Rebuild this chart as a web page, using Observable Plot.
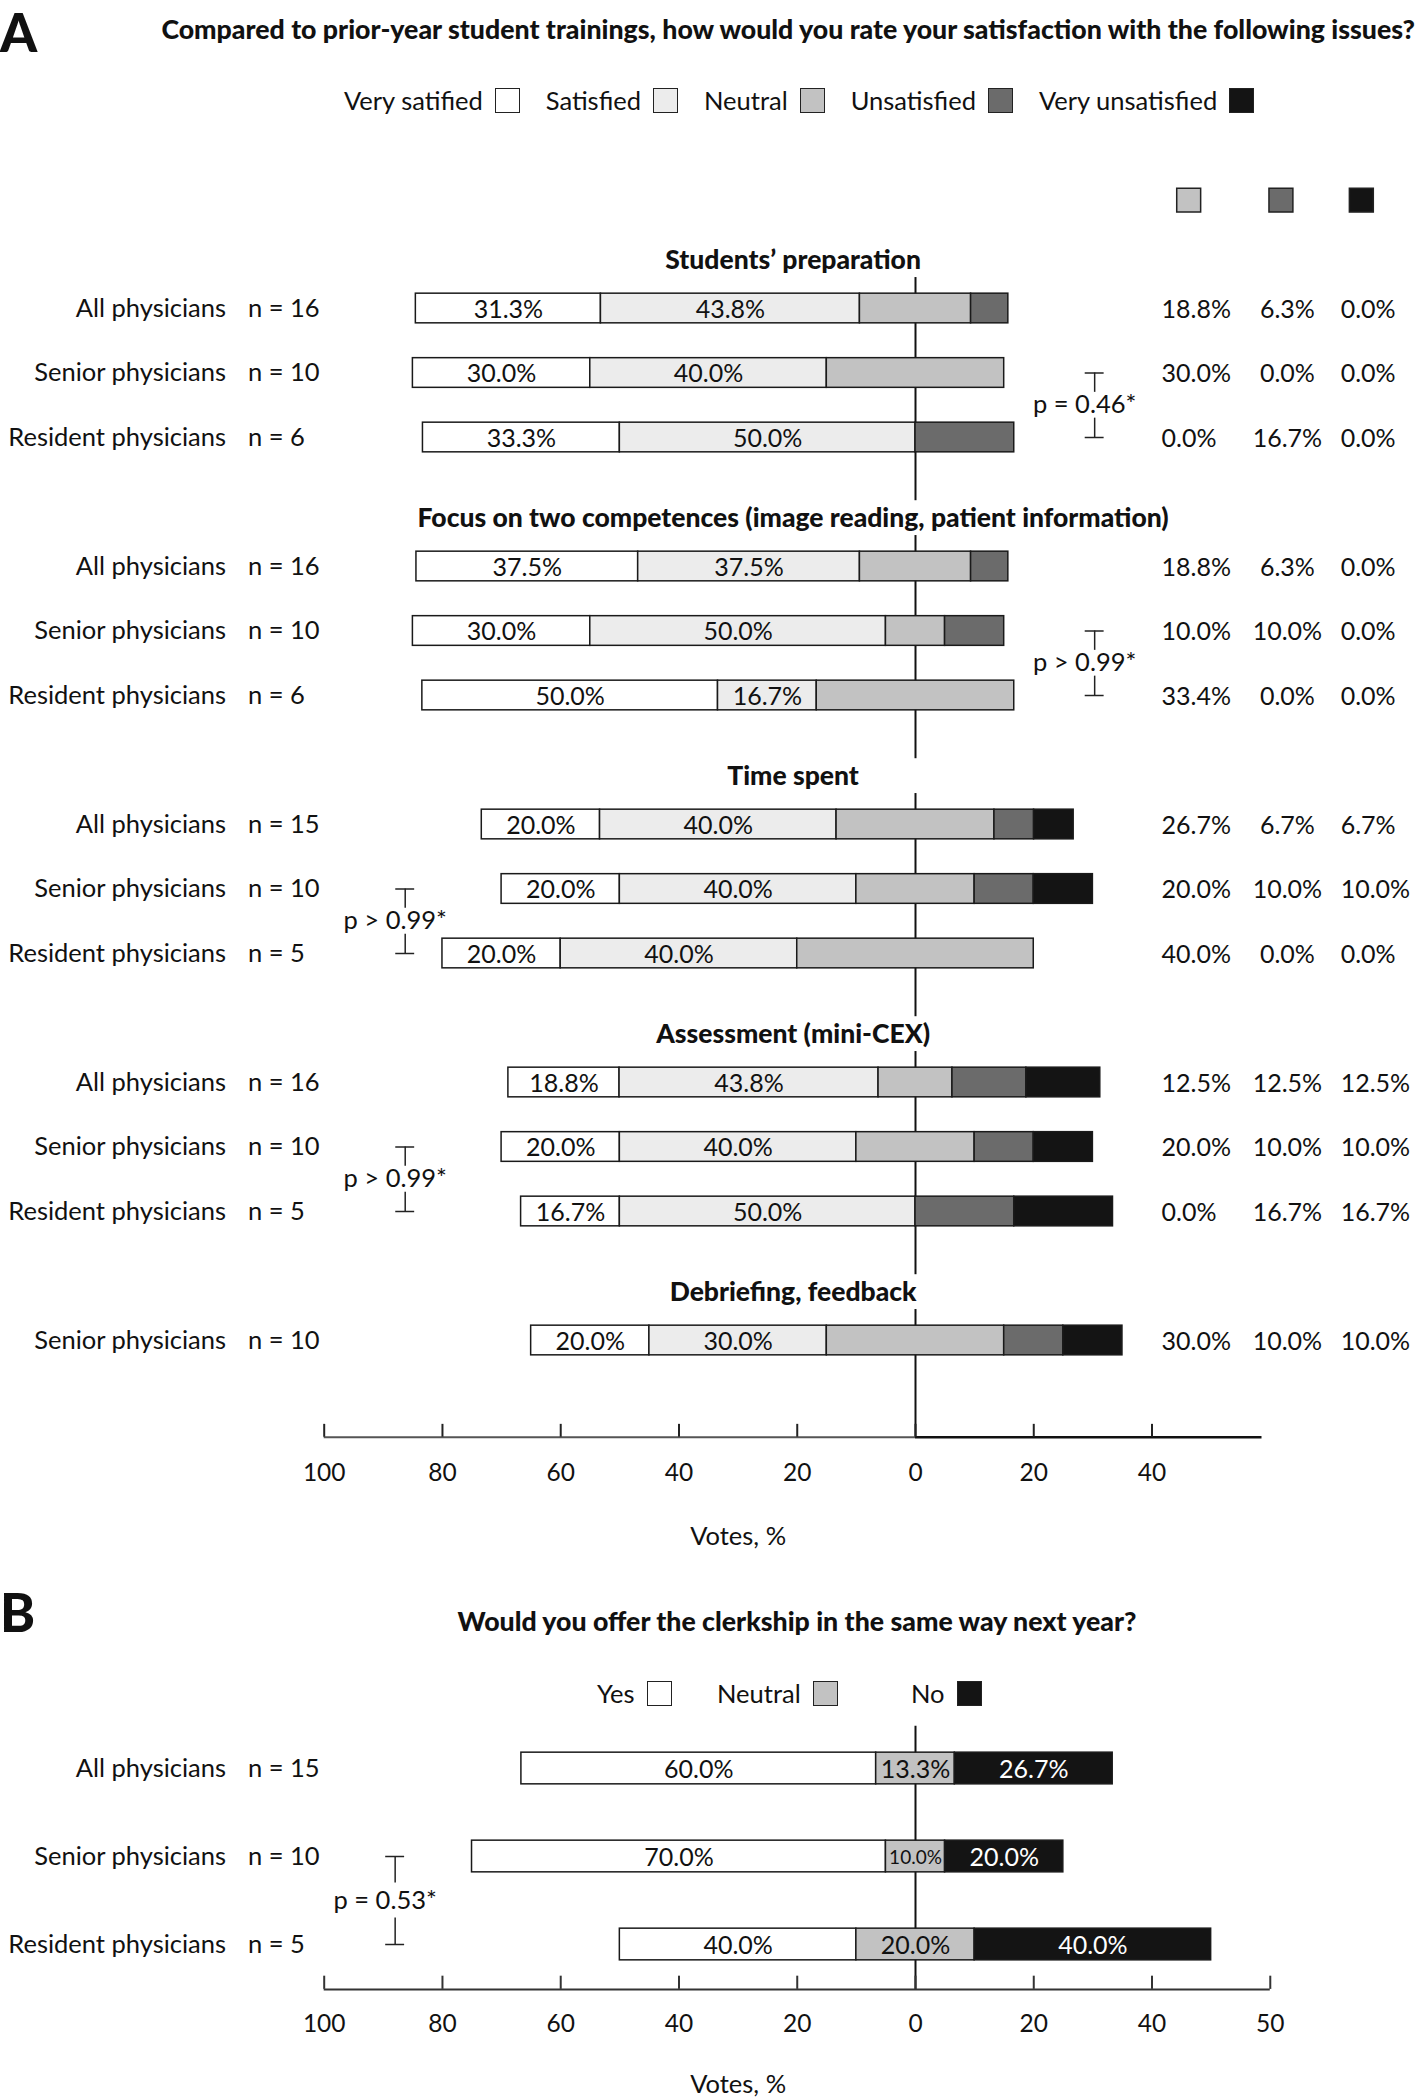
<!DOCTYPE html>
<html><head><meta charset="utf-8">
<script src="https://cdn.jsdelivr.net/npm/d3@7"></script>
<script src="https://cdn.jsdelivr.net/npm/@observablehq/plot@0.6"></script>
<style>
body{margin:0;background:#fff;}
#wrap{position:relative;width:1418px;height:2097px;overflow:hidden;font-family:Lato,"Open Sans",sans-serif;color:#111;}
#wrap svg{position:absolute;left:0;}
.panel{position:absolute;left:0;font-weight:900;font-size:53px;line-height:64px;}
.title{position:absolute;font-weight:900;font-size:26.7px;white-space:nowrap;line-height:32px;}
.legend{position:absolute;display:flex;align-items:center;font-size:25.5px;white-space:nowrap;line-height:32px;}
.legend .item{display:flex;align-items:center;}
.legend .sw{display:inline-block;width:25px;height:25px;border:1.5px solid #222;box-sizing:border-box;margin-left:12px;}
</style></head><body><div id="wrap"></div>
<script>
// ---------- data ----------
const categoriesA = ["Very satified","Satisfied","Neutral","Unsatisfied","Very unsatisfied"];
const colorsA = ["#ffffff","#ececec","#c2c2c2","#6b6b6b","#141414"];
const sectionsA = ["Students’ preparation","Focus on two competences (image reading, patient information)","Time spent","Assessment (mini-CEX)","Debriefing, feedback"];
const rowSectionA = [0,0,0,1,1,1,2,2,2,3,3,3,4];
const rowGroupA = ["All physicians","Senior physicians","Resident physicians","All physicians","Senior physicians","Resident physicians","All physicians","Senior physicians","Resident physicians","All physicians","Senior physicians","Resident physicians","Senior physicians"];
const rowNA = ["n = 16","n = 10","n = 6","n = 16","n = 10","n = 6","n = 15","n = 10","n = 5","n = 16","n = 10","n = 5","n = 10"];
const valuesA = [
  [31.3,43.8,18.8,6.3,0.0],
  [30.0,40.0,30.0,0.0,0.0],
  [33.3,50.0,0.0,16.7,0.0],
  [37.5,37.5,18.8,6.3,0.0],
  [30.0,50.0,10.0,10.0,0.0],
  [50.0,16.7,33.4,0.0,0.0],
  [20.0,40.0,26.7,6.7,6.7],
  [20.0,40.0,20.0,10.0,10.0],
  [20.0,40.0,40.0,0.0,0.0],
  [18.8,43.8,12.5,12.5,12.5],
  [20.0,40.0,20.0,10.0,10.0],
  [16.7,50.0,0.0,16.7,16.7],
  [20.0,30.0,30.0,10.0,10.0]
];
const pSectionA = [0,1,2,3];
const pLabelA = ["p = 0.46*","p > 0.99*","p > 0.99*","p > 0.99*"];
const pSideA = ["right","right","left","left"];
const ticksA = [-100,-80,-60,-40,-20,0,20,40];
const tickLabelsA = ["100","80","60","40","20","0","20","40"];

const categoriesB = ["Yes","Neutral","No"];
const colorsB = ["#ffffff","#c2c2c2","#141414"];
const rowGroupB = ["All physicians","Senior physicians","Resident physicians"];
const rowNB = ["n = 15","n = 10","n = 5"];
const valuesB = [
  [60.0,13.3,26.7],
  [70.0,10.0,20.0],
  [40.0,20.0,40.0]
];
const pLabelB = "p = 0.53*";
const ticksB = [-100,-80,-60,-40,-20,0,20,40,60];
const tickLabelsB = ["100","80","60","40","20","0","20","40","50"];

// ---------- layout ----------
const W = 1418;
const FONT = "Lato, 'Open Sans', sans-serif";
const ZERO = 915, PXU = 5.913;
const xOpts = {domain:[-100,0], range:[ZERO-100*PXU, ZERO], axis:null};
const SLOT_A = 64.5, Y0_A = 308;
const SLOT_B = 88, Y0_B = 193, TOP_B = 1575;
const HALF_A = 0.23, HALF_B = 0.18;
const labelX = -116.6, nX = -112.9;
const colX = [41.6, 62.9, 71.9];
const colAnchor = ["start","middle","start"];
const colHeadX = [46.2, 61.8, 75.4];
const titleX = -20.7, votesX = -30;
const bracketX = {right: 30.3, left: -86.3};
const FS = 25.5, FS_BAR = 25, FS_TICK = 24.5;

function stack(rows, neutralIdx){
  const out = [];
  rows.forEach(r => {
    let s = -(d3.sum(r.vals.slice(0,neutralIdx)) + r.vals[neutralIdx]/2);
    r.vals.forEach((v,k) => { if (v > 0) out.push({slot:r.slot, x1:s, x2:s+v, v, k}); s += v; });
  });
  return out;
}

// rows A
const counter = {};
const rowsA = valuesA.map((vals,i) => {
  const s = rowSectionA[i];
  counter[s] = (counter[s]||0);
  const slot = s*4 + counter[s]++;
  return {i, section:s, slot, group:rowGroupA[i], n:rowNA[i], vals};
});
const segA = stack(rowsA, 2).map(d => ({...d, cat:categoriesA[d.k]}));
const titleSlot = sectionsA.map((t,s) => s*4 - 0.75);
const axisSlotA = 17.5;
const zeroSegA = sectionsA.map((t,s) => ({y1:titleSlot[s]+0.27, y2: s < sectionsA.length-1 ? titleSlot[s+1]-0.27 : axisSlotA}));
const colMarks = [2,3,4].map((k,j) => Plot.text(rowsA, {
  x: () => colX[j], y:"slot", dy:1, text: r => r.vals[k].toFixed(1)+"%", textAnchor: colAnchor[j], fontSize:FS_BAR
}));
const brA = pSectionA.map((s,j) => ({r: s*4+1, x: bracketX[pSideA[j]], label: pLabelA[j]}));
function brMarks(br){
  return [
    Plot.ruleX(br, {x:"x", y1:d=>d.r, y2:d=>d.r+0.3, stroke:"#222", strokeWidth:1.5}),
    Plot.ruleX(br, {x:"x", y1:d=>d.r+0.7, y2:d=>d.r+1, stroke:"#222", strokeWidth:1.5}),
    Plot.ruleY(br, {y:d=>d.r, x1:d=>d.x-1.6, x2:d=>d.x+1.6, stroke:"#222", strokeWidth:1.5}),
    Plot.ruleY(br, {y:d=>d.r+1, x1:d=>d.x-1.6, x2:d=>d.x+1.6, stroke:"#222", strokeWidth:1.5}),
    Plot.text(br, {x:"x", y:d=>d.r+0.5, dx:-10, text:"label", fontSize:FS})
  ];
}

const plotA = Plot.plot({
  width: W, height: TOP_B, margin: 0,
  x: xOpts,
  y: {domain:[0,1], range:[Y0_A, Y0_A+SLOT_A], axis:null},
  color: {domain: categoriesA, range: colorsA},
  style: {fontFamily: FONT, fontSize:FS+"px", background:"transparent", overflow:"visible", color:"#111"},
  marks: [
    Plot.ruleX(zeroSegA, {x:0, y1:"y1", y2:"y2", stroke:"#111", strokeWidth:2}),
    Plot.rect(segA, {x1:"x1", x2:"x2", y1:d=>d.slot-HALF_A, y2:d=>d.slot+HALF_A, fill:"cat", stroke:"#1a1a1a", strokeWidth:1.5}),
    Plot.text(segA.filter(d => d.k < 2), {x:d=>(d.x1+d.x2)/2, y:"slot", dy:1, text:d=>d.v.toFixed(1)+"%", fontSize:FS_BAR, fill:"#111"}),
    ...colMarks,
    Plot.dot(categoriesA.slice(2), {x:(d,i)=>colHeadX[i], y:-1.68, symbol:"square", r:13.5, fill:d=>d, stroke:"#222", strokeWidth:1.5}),
    Plot.text(sectionsA, {x:titleX, y:(d,i)=>titleSlot[i], text:d=>d, fontWeight:900, fontSize:26.5}),
    Plot.text(rowsA, {x:labelX, y:"slot", text:"group", textAnchor:"end", fontSize:FS}),
    Plot.text(rowsA, {x:nX, y:"slot", text:"n", textAnchor:"start", fontSize:FS}),
    ...brMarks(brA),
    Plot.ruleY([axisSlotA], {x1:-100, x2:0, stroke:"#555", strokeWidth:2}),
    Plot.ruleY([axisSlotA], {x1:0, x2:58.6, stroke:"#111", strokeWidth:2.5}),
    Plot.ruleX(ticksA, {x:d=>d, y1:axisSlotA-0.2, y2:axisSlotA, stroke:"#222", strokeWidth:2}),
    Plot.text(ticksA, {x:d=>d, y:axisSlotA, dy:36, text:(d,i)=>tickLabelsA[i], fontSize:FS_TICK}),
    Plot.text(["Votes, %"], {x:votesX, y:axisSlotA, dy:100, text:d=>d, fontSize:FS})
  ]
});

// rows B
const rowsB = valuesB.map((vals,i) => ({slot:i, group:rowGroupB[i], n:rowNB[i], vals}));
const segB = stack(rowsB, 1).map(d => ({...d, cat:categoriesB[d.k]}));
const axisSlotB = 2.51;
const brB = [{r:1, x:-88, label:pLabelB}];
const plotB = Plot.plot({
  width: W, height: 2097-TOP_B, margin: 0,
  x: xOpts,
  y: {domain:[0,1], range:[Y0_B, Y0_B+SLOT_B], axis:null},
  color: {domain: categoriesB, range: colorsB},
  style: {fontFamily: FONT, fontSize:FS+"px", background:"transparent", overflow:"visible", color:"#111"},
  marks: [
    Plot.ruleX([{y1:-0.48, y2:axisSlotB}], {x:0, y1:"y1", y2:"y2", stroke:"#111", strokeWidth:2}),
    Plot.rect(segB, {x1:"x1", x2:"x2", y1:d=>d.slot-HALF_B, y2:d=>d.slot+HALF_B, fill:"cat", stroke:"#1a1a1a", strokeWidth:1.5}),
    Plot.text(segB, {x:d=>(d.x1+d.x2)/2, y:"slot", dy:1, text:d=>d.v.toFixed(1)+"%", fontSize:d=>d.v < 12 ? 19 : FS_BAR, fill:d=>d.k===2 ? "#fff" : "#111"}),
    Plot.text(rowsB, {x:labelX, y:"slot", text:"group", textAnchor:"end", fontSize:FS}),
    Plot.text(rowsB, {x:nX, y:"slot", text:"n", textAnchor:"start", fontSize:FS}),
    ...brMarks(brB),
    Plot.ruleY([axisSlotB], {x1:-100, x2:60, stroke:"#333", strokeWidth:2}),
    Plot.ruleX(ticksB, {x:d=>d, y1:axisSlotB-0.15, y2:axisSlotB, stroke:"#333", strokeWidth:2}),
    Plot.text(ticksB, {x:d=>d, y:axisSlotB, dy:35, text:(d,i)=>tickLabelsB[i], fontSize:FS_TICK}),
    Plot.text(["Votes, %"], {x:votesX, y:axisSlotB, dy:95, text:d=>d, fontSize:FS})
  ]
});

// ---------- assemble ----------
const wrap = document.getElementById("wrap");
plotA.style.top = "0px";
plotB.style.top = TOP_B + "px";
wrap.appendChild(plotA);
wrap.appendChild(plotB);

function addDiv(cls, html, css){
  const d = document.createElement("div");
  d.className = cls; d.innerHTML = html; Object.assign(d.style, css); wrap.appendChild(d); return d;
}
addDiv("panel", "A", {top:"0px"});
addDiv("title", "Compared to prior-year student trainings, how would you rate your satisfaction with the following issues?", {right:"3px", top:"13px"});
const legA = addDiv("legend", "", {left:"344px", top:"84px"});
categoriesA.forEach((c,i) => {
  const it = document.createElement("span"); it.className="item"; it.style.marginRight = "26px";
  it.innerHTML = `<span>${c}</span><span class="sw" style="background:${colorsA[i]}"></span>`;
  legA.appendChild(it);
});
addDiv("panel", "B", {top:"1580px"});
addDiv("title", "Would you offer the clerkship in the same way next year?", {left:"797px", top:(1621-16)+"px", transform:"translateX(-50%)"});
const legBLeft = [597, 717, 911];
categoriesB.forEach((c,i) => {
  addDiv("legend", `<span>${c}</span><span class="sw" style="background:${colorsB[i]}"></span>`, {left:legBLeft[i]+"px", top:(1693-16)+"px"});
});
</script></body></html>
